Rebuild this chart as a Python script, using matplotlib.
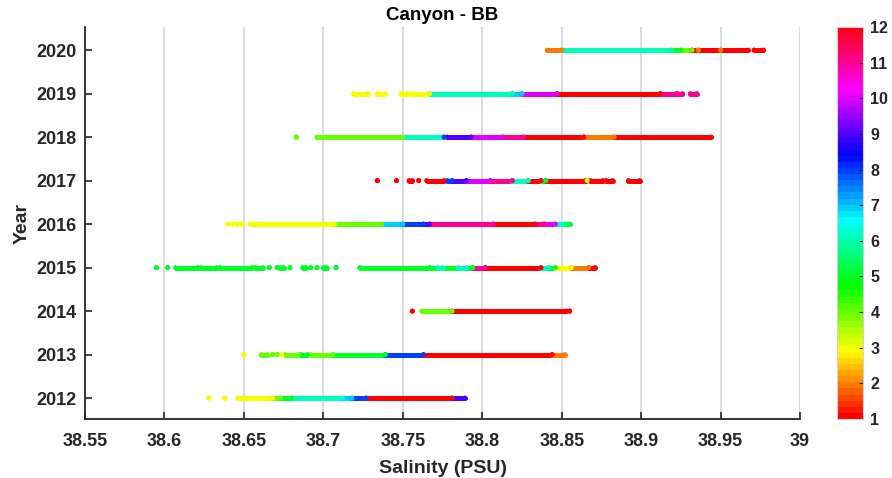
import numpy as np
import matplotlib.pyplot as plt
from matplotlib.colors import Normalize
from matplotlib.cm import ScalarMappable
from matplotlib.ticker import FuncFormatter

# segments per year: (salinity start, salinity end, month); start == end is a single dot
s2012 = [(38.628, 38.628, 3), (38.638, 38.638, 3), (38.646, 38.668, 3), (38.668, 38.673, 4),
         (38.673, 38.680, 5), (38.680, 38.687, 6), (38.687, 38.712, 6), (38.712, 38.718, 7),
         (38.718, 38.727, 8), (38.727, 38.781, 1), (38.781, 38.789, 9)]
s2013 = [(38.650, 38.650, 3), (38.661, 38.665, 4), (38.668, 38.668, 4), (38.671, 38.671, 4),
         (38.674, 38.674, 3), (38.676, 38.684, 4), (38.686, 38.690, 5), (38.692, 38.706, 4),
         (38.706, 38.739, 5), (38.739, 38.763, 8), (38.763, 38.844, 1), (38.844, 38.852, 2)]
s2014 = [(38.756, 38.756, 1), (38.762, 38.781, 4), (38.781, 38.853, 1), (38.855, 38.855, 1)]
s2015 = [(38.595, 38.595, 5), (38.602, 38.602, 5), (38.607, 38.621, 5), (38.623, 38.633, 5),
         (38.635, 38.655, 5), (38.657, 38.662, 5), (38.666, 38.666, 5), (38.671, 38.671, 5),
         (38.673, 38.675, 5), (38.679, 38.679, 5), (38.687, 38.689, 5), (38.692, 38.692, 5),
         (38.696, 38.696, 5), (38.700, 38.702, 5), (38.708, 38.708, 5), (38.723, 38.767, 5),
         (38.767, 38.794, 5), (38.772, 38.775, 6), (38.785, 38.790, 6), (38.794, 38.802, 11),
         (38.802, 38.837, 1), (38.837, 38.842, 6), (38.842, 38.846, 5), (38.846, 38.856, 3),
         (38.856, 38.867, 2), (38.867, 38.871, 1)]
s2016 = [(38.640, 38.640, 3), (38.643, 38.643, 3), (38.646, 38.646, 3), (38.649, 38.649, 3),
         (38.654, 38.654, 3), (38.656, 38.707, 3), (38.707, 38.737, 4), (38.737, 38.750, 7),
         (38.750, 38.763, 8), (38.763, 38.767, 9), (38.767, 38.807, 11), (38.807, 38.833, 1),
         (38.833, 38.839, 11), (38.839, 38.846, 10), (38.846, 38.852, 6), (38.852, 38.855, 5)]
s2017 = [(38.734, 38.734, 1), (38.746, 38.746, 1), (38.754, 38.756, 1), (38.760, 38.760, 1),
         (38.765, 38.776, 1), (38.778, 38.781, 8), (38.781, 38.790, 9), (38.790, 38.805, 10),
         (38.805, 38.819, 11), (38.819, 38.829, 6), (38.829, 38.837, 1), (38.837, 38.840, 5),
         (38.840, 38.865, 1), (38.866, 38.866, 3), (38.868, 38.876, 1), (38.878, 38.882, 1),
         (38.892, 38.899, 1)]
s2018 = [(38.683, 38.683, 4), (38.696, 38.750, 4), (38.750, 38.775, 6), (38.776, 38.776, 8),
         (38.778, 38.793, 9), (38.793, 38.813, 10), (38.813, 38.826, 11), (38.826, 38.864, 1),
         (38.864, 38.883, 2), (38.883, 38.944, 1)]
s2019 = [(38.719, 38.728, 3), (38.734, 38.739, 3), (38.749, 38.753, 3), (38.756, 38.767, 3),
         (38.767, 38.819, 6), (38.819, 38.825, 7), (38.825, 38.847, 10), (38.847, 38.912, 1),
         (38.912, 38.922, 11), (38.923, 38.926, 11), (38.931, 38.935, 11)]
s2020 = [(38.841, 38.850, 2), (38.850, 38.919, 6), (38.919, 38.925, 5), (38.925, 38.932, 4),
         (38.932, 38.967, 1), (38.936, 38.936, 2), (38.950, 38.950, 2), (38.971, 38.977, 1)]

years = [2012, 2013, 2014, 2015, 2016, 2017, 2018, 2019, 2020]
data = [s2012, s2013, s2014, s2015, s2016, s2017, s2018, s2019, s2020]
month_ticks = list(range(1, 13))
sal_ticks = [38.55, 38.6, 38.65, 38.7, 38.75, 38.8, 38.85, 38.9, 38.95, 39]

plt.rcParams['font.family'] = ['Liberation Sans', 'DejaVu Sans']
plt.rcParams['font.weight'] = 'bold'
ink = '#262626'

fig = plt.figure(figsize=(8.92, 4.78), dpi=100)
ax = fig.add_axes([0.0953, 0.1234, 0.8016, 0.820])
cax = fig.add_axes([0.938, 0.1234, 0.030, 0.820])

cmap = plt.get_cmap('hsv', 64)
norm = Normalize(1, 12)

for yr, segs in zip(years, data):
    x0 = np.array([s[0] for s in segs])
    x1 = np.array([s[1] for s in segs])
    cols = cmap(norm(np.array([s[2] for s in segs])))
    yy = np.full(len(segs), yr)
    ax.hlines(yy, x0, x1, colors=cols, lw=3.6, capstyle='round', zorder=3)
    ax.scatter(np.r_[x0, x1], np.r_[yy, yy], c=np.vstack([cols, cols]), s=13,
               linewidths=0, zorder=3)

ax.set_xlim(38.55, 39.0)
ax.set_ylim(2011.52, 2020.53)
ax.set_xticks(sal_ticks)
ax.xaxis.set_major_formatter(FuncFormatter(lambda v, p: '%g' % round(v, 2)))
ax.set_yticks(years)
ax.grid(axis='x', color='#dcdcdc', lw=1.5)
ax.set_axisbelow(True)
for side in ['top', 'right']:
    ax.spines[side].set_visible(False)
for side in ['left', 'bottom']:
    ax.spines[side].set_color(ink)
    ax.spines[side].set_linewidth(1.3)
ax.tick_params(direction='in', length=5, width=1.2, colors=ink, labelsize=13)
ax.tick_params(axis='x', pad=10)
ax.tick_params(axis='y', pad=6)

ax.set_title('Canyon - BB', fontsize=13.5, fontweight='bold', color='black', pad=5)
ax.set_xlabel('Salinity (PSU)', fontsize=14, fontweight='bold', color=ink, labelpad=7)
ax.set_ylabel('Year', fontsize=14, fontweight='bold', color=ink, labelpad=4)

cb = fig.colorbar(ScalarMappable(norm=norm, cmap=cmap), cax=cax, ticks=month_ticks)
cb.outline.set_edgecolor('#d0d0d0')
cb.outline.set_linewidth(0.8)
cax.tick_params(direction='in', length=3, width=0.8, colors=ink, labelsize=11.5, pad=5)

fig.savefig('out.png', dpi=100)
